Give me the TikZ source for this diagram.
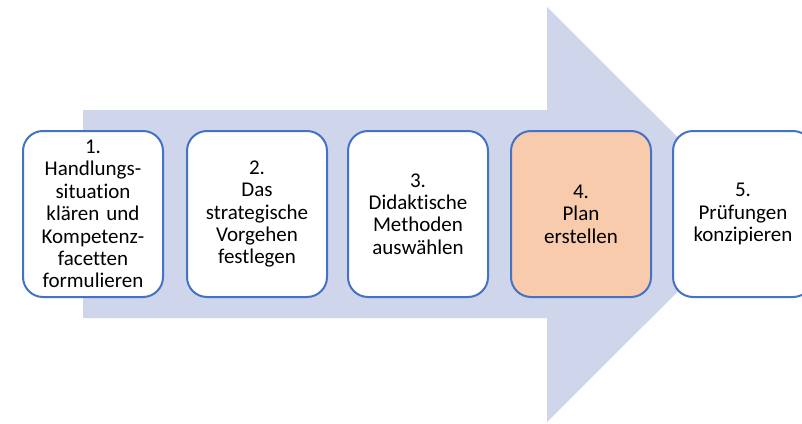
\documentclass[tikz,border=0pt]{standalone}
\usepackage{fontspec}
\setmainfont{Carlito}[Ligatures=NoCommon]
\definecolor{arrowfill}{HTML}{CFD5EA}
\definecolor{boxline}{HTML}{4472C4}
\definecolor{peach}{HTML}{F8CBAD}
\begin{document}
\begin{tikzpicture}[x=1pt,y=-1pt,
  stepbox/.style={draw=boxline, line width=2pt, rounded corners=20pt, fill=white,
    minimum width=140pt, minimum height=166pt, inner sep=0pt, text width=138pt,
    align=center, font=\fontsize{21}{22.4}\selectfont},
]
\clip (0,0) rectangle (802,423);
\fill[white] (0,0) rectangle (802,423);
% broad process arrow behind the steps
\fill[arrowfill] (83,110) -- (547,110) -- (547,7) -- (755,214.5) -- (547,422)
  -- (547,318) -- (83,318) -- cycle;
% the five steps
\node[stepbox] (s1) at (93,214) {1.\\Handlungs-\\situation\\klären und\\Kompetenz-\\facetten\\formulieren};
\node[stepbox] (s2) at (257,214) {2.\\Das\\strategische\\Vorgehen\\festlegen};
\node[stepbox] (s3) at (418,214) {3.\\Didaktische\\Methoden\\auswählen};
\node[stepbox, fill=peach] (s4) at (581,214) {4.\\Plan\\erstellen};
\node[stepbox] (s5) at (743,214) {5.\\Prüfungen\\konzipieren};
\end{tikzpicture}
\end{document}
